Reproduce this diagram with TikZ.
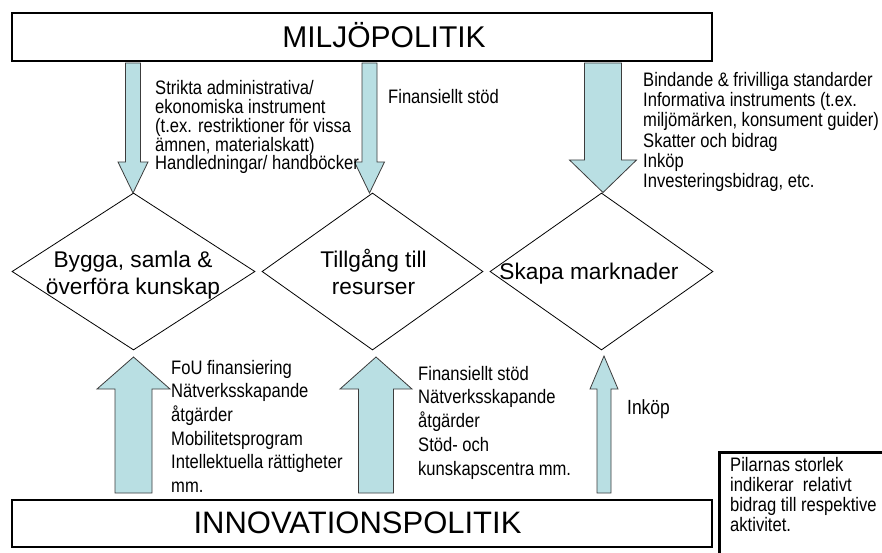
\documentclass[tikz,border=0pt]{standalone}
\usepackage{fontspec}
\setmainfont{Liberation Sans}
\newfontfamily\narrowsans[FakeStretch=0.85]{Liberation Sans}
\usetikzlibrary{shapes.geometric}

\definecolor{arrowfill}{RGB}{185,223,227}
\definecolor{arrowline}{RGB}{60,60,60}

% struts that fix the height of the first line of a text block
\newcommand\tstrut{\rule{0pt}{16pt}}
\newcommand\dstrut{\rule{0pt}{19pt}}

% block arrow: centre x, tail y, head base y, tip y, shaft half width, head half width
\newcommand\blockarrow[6]{%
  \draw[blockarrow] ({#1-#5},#2) -- ({#1-#5},#3) -- ({#1-#6},#3) -- (#1,#4)
    -- ({#1+#6},#3) -- ({#1+#5},#3) -- ({#1+#5},#2) -- cycle;}

\begin{document}
\begin{tikzpicture}[x=1pt, y=-1pt,
  policybox/.style={draw, line width=1.6pt, minimum width=700pt, inner sep=0pt},
  title/.style={font=\fontsize{30}{36}\selectfont, inner sep=0pt, anchor=base},
  activity/.style={draw, diamond, line width=0.8pt, inner sep=0pt},
  dtext/.style={font=\fontsize{22.7}{27}\selectfont, align=center, anchor=north, inner sep=0pt},
  annot/.style={font=\narrowsans\fontsize{19.5}{#1}\selectfont, align=left, anchor=north west, inner sep=0pt},
  blockarrow/.style={draw=arrowline, fill=arrowfill, line width=0.8pt, line join=miter},
  notebox/.style={draw, line width=3pt, anchor=north west, minimum width=220pt, minimum height=160pt, inner sep=0pt}]

\useasboundingbox (0,0) rectangle (882,553);
\clip (0,0) rectangle (882,553);

% policy levels
\node[policybox, minimum height=48pt] (miljo) at (362,37) {};
\node[title] (miljotitle) at (384,48) {MILJÖPOLITIK};
\node[policybox, minimum height=47pt] (innov) at (362,523.5) {};
\node[title, font=\fontsize{31}{36}\selectfont] (innovtitle) at (357.5,533) {INNOVATIONSPOLITIK};

% activities
\node[activity, minimum width=243pt, minimum height=157pt] (d1) at (133.5,271.5) {};
\node[activity, minimum width=221pt, minimum height=157pt] (d2) at (372.5,271.5) {};
\node[activity, minimum width=223pt, minimum height=157pt] (d3) at (601.5,271.5) {};
\node[dtext] (d1text) at (133,248) {\dstrut Bygga, samla \&\\överföra kunskap};
\node[dtext] (d2text) at (373.5,248) {\dstrut Tillgång till\\resurser};
\node[dtext, anchor=base] (d3text) at (589,279) {Skapa marknader};

% contributions from environmental policy
\blockarrow{133}{63}{162}{193}{7.5}{15}
\blockarrow{369.5}{63}{162}{193}{7.5}{15}
\blockarrow{603}{63}{160}{192.5}{18.5}{33.5}

% contributions from innovation policy
\blockarrow{133.5}{493}{389}{357}{18.5}{36.5}
\blockarrow{376}{493}{389}{357}{17.5}{36}
\blockarrow{604}{493}{389}{356}{7}{14}

% instruments
\node[annot=18.8] (t1) at (155,78.5) {\tstrut Strikta administrativa/\\ekonomiska instrument\\(t.ex. restriktioner för vissa\\ämnen, materialskatt)\\Handledningar/ handböcker};
\node[annot=18.8] (t2) at (388,87) {\tstrut Finansiellt stöd};
\node[annot=20.3] (t3) at (643,70) {\tstrut Bindande \& frivilliga standarder\\Informativa instruments (t.ex.\\miljömärken, konsument guider)\\Skatter och bidrag\\Inköp\\Investeringsbidrag, etc.};
\node[annot=23.6] (t4) at (171,358) {\tstrut FoU finansiering\\Nätverksskapande\\åtgärder\\Mobilitetsprogram\\Intellektuella rättigheter\\mm.};
\node[annot=23.75] (t5) at (418,364) {\tstrut Finansiellt stöd\\Nätverksskapande\\åtgärder\\Stöd- och\\kunskapscentra mm.};
\node[font=\narrowsans\fontsize{20.5}{24}\selectfont, anchor=base west, inner sep=0pt] (t6) at (627,414) {Inköp};

% legend
\node[notebox] (note) at (718.3,451) {};
\node[annot=20] (notetext) at (730,455.5) {\tstrut Pilarnas storlek\\indikerar\ \ relativt\\bidrag till respektive\\aktivitet.};
\end{tikzpicture}
\end{document}
